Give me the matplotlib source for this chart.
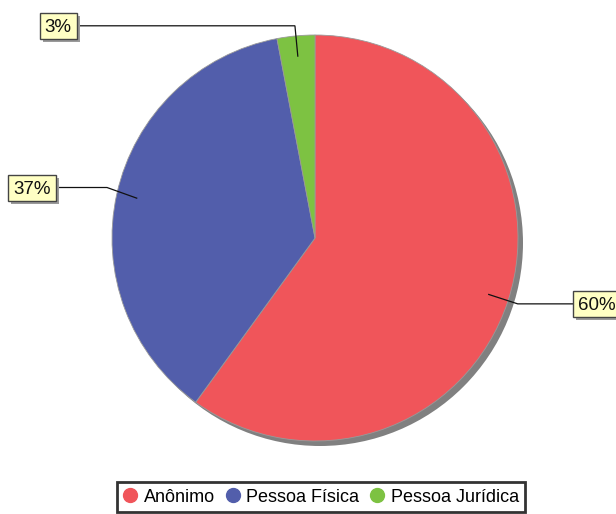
import numpy as np
import matplotlib
matplotlib.use("Agg")
import matplotlib.pyplot as plt
from matplotlib.lines import Line2D
from matplotlib.patches import Circle, Rectangle

plt.rcParams['font.family'] = ['Liberation Sans', 'DejaVu Sans']

categories = ["Anônimo", "Pessoa Física", "Pessoa Jurídica"]
values = [60, 37, 3]
labels = ["60%", "37%", "3%"]
colors = ["#F0555A", "#525EAB", "#7DC242"]

W, H = 616, 514
fig = plt.figure(figsize=(W / 100, H / 100), dpi=100)
ax = fig.add_axes([0, 0, 1, 1])
ax.set_xlim(0, W)
ax.set_ylim(0, H)

cx, cy, R = 315, H - 238, 203

# shadow
ax.add_patch(Circle((cx + 5, cy - 5), R, facecolor="#808080", edgecolor="none", zorder=1))

wedges, _ = ax.pie(values, colors=colors, startangle=90, counterclock=False,
                   center=(cx, cy), radius=R,
                   wedgeprops=dict(edgecolor="#9a9a9a", linewidth=0.6))
for w in wedges:
    w.set_zorder(2)
ax.set_xlim(0, W)
ax.set_ylim(0, H)
ax.set_aspect("auto")
ax.axis("off")

label_x = [597, 32, 58]
label_dy = [0, 4, 0]
texts = []
for w, lab, lx, dy in zip(wedges, labels, label_x, label_dy):
    mid = np.deg2rad((w.theta1 + w.theta2) / 2)
    x_in, y_in = cx + 0.9 * R * np.cos(mid), cy + 0.9 * R * np.sin(mid)
    x_el, y_el = cx + 1.05 * R * np.cos(mid), cy + 1.05 * R * np.sin(mid) + dy
    ax.plot([x_in, x_el, lx], [y_in, y_el, y_el], color="#111111", lw=0.9, zorder=3,
            solid_joinstyle="miter")
    t = ax.text(lx, y_el - 6.5, lab, fontsize=13.5, ha="center", va="baseline",
                color="#111111", zorder=6)
    texts.append((t, y_el))

fig.canvas.draw()
r = fig.canvas.get_renderer()
px, bh = 5, 26
for t, yc in texts:
    bb = t.get_window_extent(renderer=r)
    x0, x1 = bb.x0 - px, bb.x1 + px
    y0 = yc - bh / 2
    ax.add_patch(Rectangle((x0 + 3, y0 - 3), x1 - x0, bh, facecolor="#9a9a9a",
                           edgecolor="none", zorder=4))
    ax.add_patch(Rectangle((x0, y0), x1 - x0, bh, facecolor="#FFFFC4",
                           edgecolor="#444444", linewidth=1.0, zorder=5))

handles = [Line2D([0], [0], marker="o", linestyle="none", markersize=10,
                  markerfacecolor=c, markeredgecolor=c) for c in colors]
leg = fig.legend(handles, categories, loc="center", ncol=3,
                 bbox_to_anchor=(321 / W, 1 - 497 / H), fontsize=13,
                 frameon=True, fancybox=False, handlelength=0.8, handletextpad=0.35,
                 columnspacing=0.6, borderpad=0.35, borderaxespad=0)
leg.get_frame().set_edgecolor("black")
leg.get_frame().set_linewidth(2)

fig.savefig("out.png", dpi=100)
